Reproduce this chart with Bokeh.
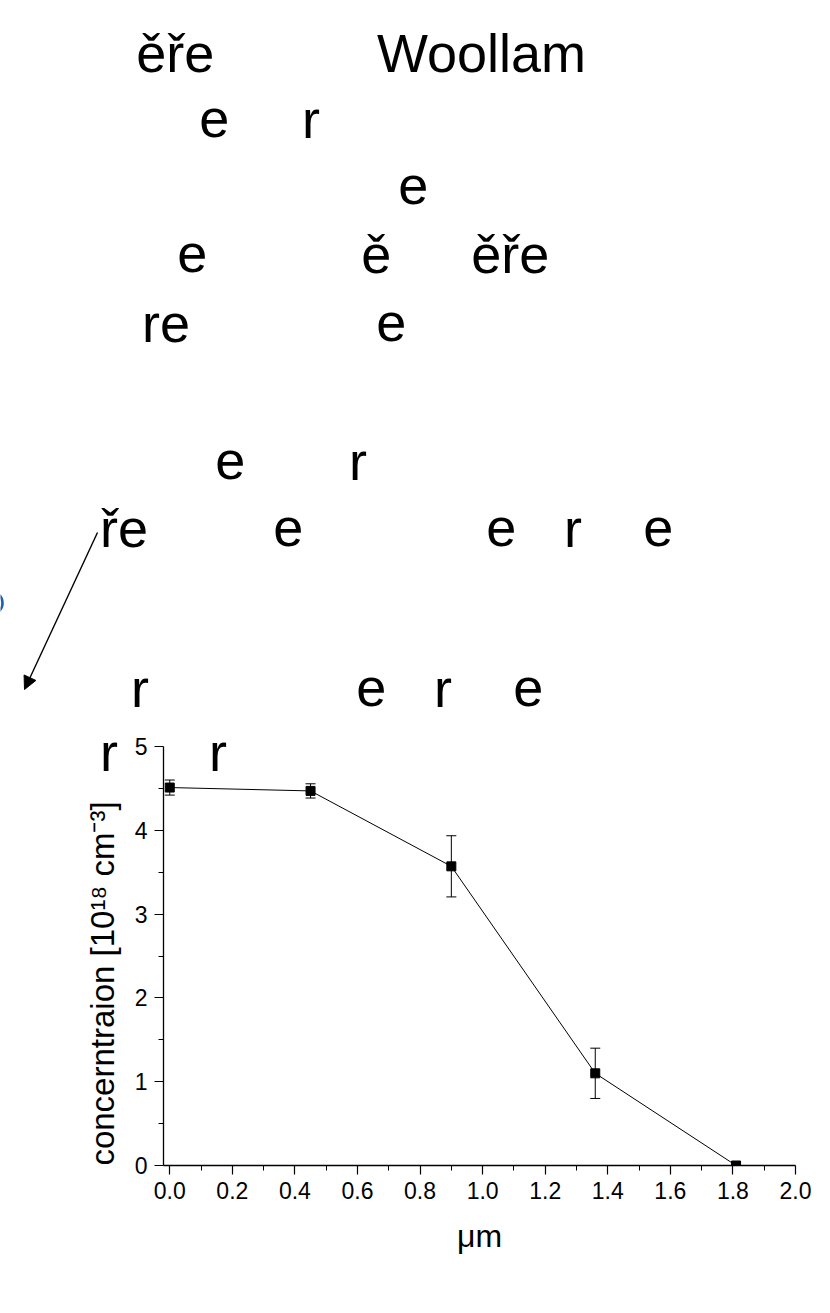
from bokeh.plotting import figure
from bokeh.models import (ColumnDataSource, Whisker, TeeHead, Arrow, NormalHead,
                          FixedTicker, Range1d, GridBox)
from bokeh.core.properties import value
from bokeh.embed import file_html
from bokeh.resources import INLINE

# ---------------- data ----------------
depth_um = [0.0, 0.45, 0.90, 1.36, 1.81]
concentration = [4.51, 4.47, 3.57, 1.10, 0.0]
error = [0.09, 0.085, 0.365, 0.30, 0.0]

x_ticks = [0.0, 0.2, 0.4, 0.6, 0.8, 1.0, 1.2, 1.4, 1.6, 1.8, 2.0]
x_tick_labels = ["0.0", "0.2", "0.4", "0.6", "0.8", "1.0", "1.2", "1.4", "1.6", "1.8", "2.0"]
x_minor = [0.1, 0.3, 0.5, 0.7, 0.9, 1.1, 1.3, 1.5, 1.7, 1.9]
y_ticks = [0, 1, 2, 3, 4, 5]
y_minor = [0.5, 1.5, 2.5, 3.5, 4.5]

x_label = "\u03bcm"
y_label = "concerntraion [10\u00b9\u2078 cm\u207b\u00b3]"

# text fragments: (text, page x of ink start, page y of baseline)
frag_text = ["\u011b\u0159e", "Woollam", "e", "r", "e", "e", "\u011b", "\u011b\u0159e",
             "re", "e", "e", "r", "\u0159e", "e", "e", "r", "e", "r", "e", "r", "e",
             "r", "r"]
frag_x = [138, 377, 201, 305, 400, 179, 363, 473, 145, 378, 217, 352, 103, 275,
          488, 567, 645, 134, 358, 437, 515, 103, 212]
frag_y = [52, 52, 118, 118, 185, 253, 253, 253, 322, 322, 460, 460, 527, 527,
          527, 527, 527, 687, 687, 687, 687, 751, 751]

FONT = "Liberation Sans"
W, H = 814, 1290

# ---------------- background layer: text fragments, arrow ----------------
bg = figure(width=W, height=H, x_range=Range1d(0, W), y_range=Range1d(H, 0),
            x_axis_type=None, y_axis_type=None, min_border=0, frame_align=False,
            output_backend="svg", toolbar_location=None)
bg.grid.visible = False
bg.outline_line_color = None
bg.background_fill_color = "white"
bg.border_fill_color = "white"

LSB = {"e": 2.2, "\u011b": 2.2, "r": 3.6, "\u0159": 3.6, "W": 0.5}
frag_src = ColumnDataSource(dict(x=[x - LSB.get(t[0], 2) for t, x in zip(frag_text, frag_x)],
                                 y=frag_y, text=frag_text))
bg.text("x", "y", text="text", source=frag_src, text_font=value(FONT),
        text_font_size=value("54px"), text_color="black",
        text_align="left", text_baseline="alphabetic")

bg.add_layout(Arrow(x_start=97, y_start=532, x_end=24, y_end=689,
                    line_color="black", line_width=1.4,
                    end=NormalHead(size=13, fill_color="black", line_color="black")))
bg.arc(x=[-9], y=[602.5], radius=11, start_angle=-0.95, end_angle=0.95,
       line_color="#1d5fb0", line_width=2.6)

# ---------------- chart layer ----------------
ML, MR, MT, MB = 163, 19, 746, 125
FW, FH = W - ML - MR, H - MT - MB

p = figure(width=W, height=H, frame_width=FW, frame_height=FH,
           x_range=(-0.02, 2.0), y_range=(0, 5), frame_align=False,
           min_border_left=ML, min_border_right=MR, min_border_top=MT, min_border_bottom=MB,
           output_backend="svg", toolbar_location=None)
p.grid.visible = False
p.outline_line_color = None
p.background_fill_color = None
p.border_fill_color = None

src = ColumnDataSource(dict(x=depth_um, y=concentration,
                            lo=[c - e for c, e in zip(concentration, error)],
                            hi=[c + e for c, e in zip(concentration, error)]))
p.line("x", "y", source=src, line_color="black", line_width=1)
p.add_layout(Whisker(source=src, base="x", lower="lo", upper="hi", line_color="black",
                     line_width=1,
                     upper_head=TeeHead(size=10, line_color="black", line_width=1),
                     lower_head=TeeHead(size=10, line_color="black", line_width=1)))
p.scatter("x", "y", source=src, marker="square", size=9, fill_color="black",
          line_color="black")

for ax in (p.xaxis[0], p.yaxis[0]):
    ax.axis_line_color = "black"
    ax.axis_line_width = 1.3
    ax.major_tick_line_color = "black"
    ax.minor_tick_line_color = "black"
    ax.major_tick_line_width = 1.2
    ax.major_tick_in = 0
    ax.major_tick_out = 9
    ax.minor_tick_in = 0
    ax.minor_tick_out = 5
    ax.major_label_text_font = FONT
    ax.major_label_text_font_size = "23px"
    ax.major_label_text_color = "black"
    ax.axis_label_text_font = FONT
    ax.axis_label_text_font_style = "normal"
    ax.axis_label_text_color = "black"
    ax.major_label_standoff = 7

p.xaxis.ticker = FixedTicker(ticks=x_ticks, minor_ticks=x_minor)
p.xaxis.major_label_overrides = {t: l for t, l in zip(x_ticks, x_tick_labels)}
p.yaxis.ticker = FixedTicker(ticks=y_ticks, minor_ticks=y_minor)
p.xaxis.axis_label = x_label
p.xaxis.axis_label_text_font_size = "32px"
p.xaxis.axis_label_standoff = 16
# trailing no-break spaces move the centred label down, as in the reference
p.yaxis.axis_label = y_label + "\u00a0" * 6
p.yaxis.axis_label_text_font_size = "33px"
p.yaxis.axis_label_standoff = 11

layout = GridBox(children=[(bg, 0, 0), (p, 0, 0)])
open("out.html", "w").write(file_html(layout, INLINE))
